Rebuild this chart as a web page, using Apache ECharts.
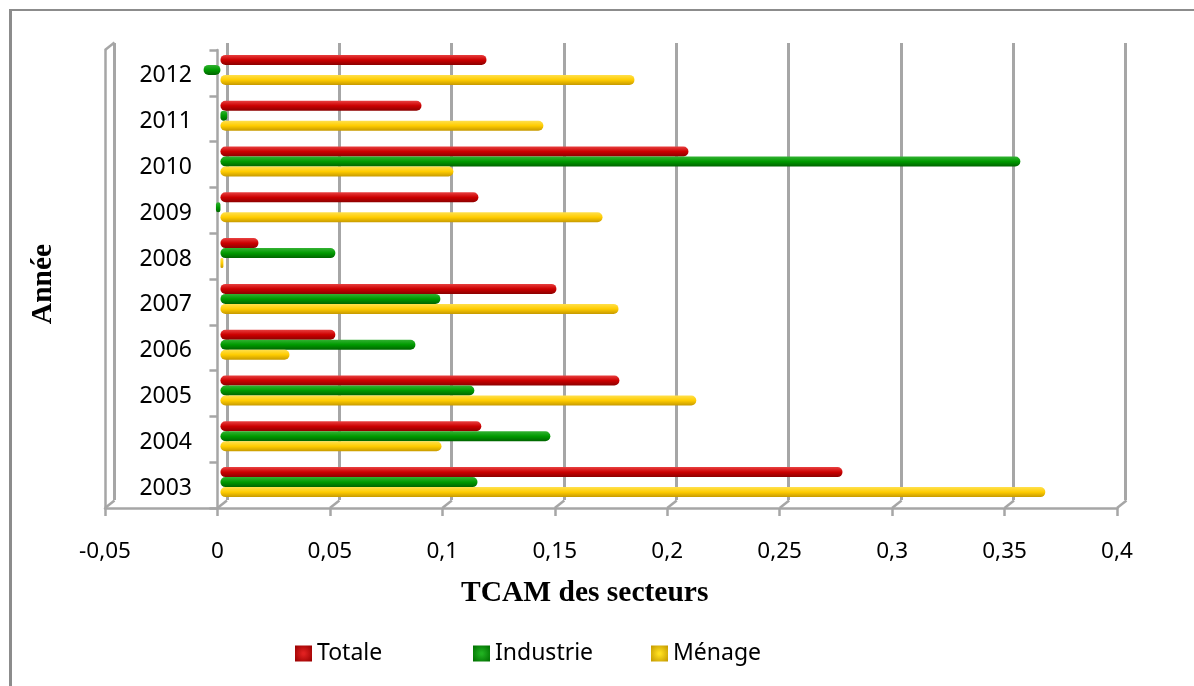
<!DOCTYPE html>
<html>
<head>
<meta charset="utf-8">
<style>
html, body { margin: 0; background: #fff; }
#chart { width: 1194px; height: 686px; }
</style>
<script src="https://cdn.jsdelivr.net/npm/echarts@6/dist/echarts.min.js"></script>
</head>
<body>
<div id="chart"></div>
<script>
var annees = ['2003', '2004', '2005', '2006', '2007', '2008', '2009', '2010', '2011', '2012'];
var totale = [0.2766, 0.116, 0.1774, 0.0511, 0.1494, 0.0169, 0.1147, 0.2081, 0.0894, 0.1183];
var industrie = [0.1143, 0.1467, 0.1129, 0.0867, 0.0978, 0.0511, -0.002, 0.3557, 0.003, -0.0075];
var menage = [0.3668, 0.0983, 0.2116, 0.0307, 0.177, 0.0013, 0.1699, 0.1036, 0.1436, 0.1841];
var graduations = [-0.05, 0, 0.05, 0.1, 0.15, 0.2, 0.25, 0.3, 0.35, 0.4];

var gris = '#a6a6a6';
var police = '"Noto Sans", sans-serif';

function degrade(clair, milieu, sombre) {
    return new echarts.graphic.LinearGradient(0, 0, 0, 1, [
        { offset: 0, color: clair },
        { offset: 0.5, color: milieu },
        { offset: 1, color: sombre }
    ]);
}

function serie(nom, valeurs, couleur) {
    return {
        name: nom,
        type: 'bar',
        xAxisIndex: 2,
        yAxisIndex: 2,
        data: valeurs,
        barWidth: 10,
        barGap: '0%',
        z: 5,
        itemStyle: { color: couleur, borderRadius: 5 }
    };
}

function legende(nom, gauche, centre, bord) {
    return {
        data: [{
            name: nom,
            icon: 'rect',
            itemStyle: {
                borderRadius: 0,
                color: new echarts.graphic.RadialGradient(0.5, 0.5, 0.7, [
                    { offset: 0.1, color: centre },
                    { offset: 1, color: bord }
                ])
            }
        }],
        left: gauche,
        top: 642,
        itemWidth: 17,
        itemHeight: 16,
        padding: 0,
        textStyle: { fontFamily: police, fontSize: 23, color: '#000' }
    };
}

function axeCache(index) {
    return { type: 'value', gridIndex: index, min: -0.05, max: 0.4, interval: 0.05, show: false };
}

// petits traits obliques du plancher 3D, et le coin haut de la paroi
function traitsPlancher(params, api) {
    var coord = params.coordSys;
    var y = api.value(1) ? coord.y : coord.y + coord.height;
    var p = api.coord([api.value(0), 0]);
    return {
        type: 'line',
        shape: { x1: p[0], y1: y, x2: p[0] + 9.5, y2: y - 7.5 },
        style: { stroke: gris, lineWidth: 2.5 }
    };
}

var traits = graduations.map(function (v) { return [v, 0]; });
traits.push([graduations[0], 1]);

var chart = echarts.init(document.getElementById('chart'));
chart.setOption({
    animation: false,
    grid: [
        { left: 105, top: 50, width: 1012, height: 458 },
        { left: 114.5, top: 43, width: 1011, height: 457 },
        { left: 108, top: 47, width: 1012, height: 458 }
    ],
    legend: [
        legende('Totale', 295, '#e02020', '#980000'),
        legende('Industrie', 473, '#20b020', '#006f00'),
        legende('Ménage', 651, '#ffdf20', '#c49a00')
    ],
    xAxis: [
        {
            type: 'value', gridIndex: 0, min: -0.05, max: 0.4, interval: 0.05,
            axisLine: { show: true, lineStyle: { color: gris, width: 2.5 } },
            axisTick: { show: true, length: 8, lineStyle: { color: gris, width: 2.5 } },
            splitLine: { show: false },
            axisLabel: {
                margin: 32, fontFamily: police, fontSize: 22.5, color: '#000',
                formatter: function (v) { return String(v).replace('.', ','); }
            }
        },
        {
            type: 'value', gridIndex: 1, min: -0.05, max: 0.4, interval: 0.05,
            axisLine: { show: false }, axisTick: { show: false }, axisLabel: { show: false },
            splitLine: { show: true, lineStyle: { color: gris, width: 3 } }
        },
        axeCache(2)
    ],
    yAxis: [
        {
            type: 'category', gridIndex: 0, data: annees,
            axisLine: { show: true, onZero: true, lineStyle: { color: gris, width: 2.5 } },
            axisTick: { show: true, length: 8, lineStyle: { color: gris, width: 2.5 } },
            splitLine: { show: false },
            axisLabel: {
                margin: -87, fontFamily: police, fontSize: 23, color: '#000',
                formatter: '{a|{value}}',
                rich: { a: { fontFamily: police, fontSize: 23, color: '#000', padding: [6, 0, 0, 0] } }
            }
        },
        {
            type: 'category', gridIndex: 1, data: annees, show: false
        },
        {
            type: 'category', gridIndex: 2, data: annees, show: false
        },
        {
            // paroi gauche, cote avant
            type: 'category', gridIndex: 0, data: annees, position: 'left',
            axisLine: { show: true, onZero: false, lineStyle: { color: gris, width: 2.5 } },
            axisTick: { show: false }, axisLabel: { show: false }, splitLine: { show: false }
        }
    ],
    graphic: [
        {
            type: 'text', left: 461, top: 578,
            style: { text: 'TCAM des secteurs', fontFamily: '"Liberation Serif", serif', fontWeight: 'bold', fontSize: 29.5, fill: '#000' }
        },
        {
            type: 'text', x: 43, y: 284, rotation: Math.PI / 2,
            style: { text: 'Année', align: 'center', verticalAlign: 'middle', fontFamily: '"Liberation Serif", serif', fontWeight: 'bold', fontSize: 29.5, fill: '#000' }
        },
        { type: 'line', shape: { x1: 9, y1: 10, x2: 1194, y2: 10 }, style: { stroke: '#8c8c8c', lineWidth: 2 } },
        { type: 'line', shape: { x1: 10.5, y1: 9, x2: 10.5, y2: 686 }, style: { stroke: '#8c8c8c', lineWidth: 3 } }
    ],
    series: [
        {
            type: 'custom', xAxisIndex: 0, yAxisIndex: 0, silent: true, z: 1,
            renderItem: traitsPlancher,
            data: traits,
            encode: { x: 0 }
        },
        serie('Totale', totale, degrade('#e84040', '#cc0000', '#8c0000')),
        serie('Industrie', industrie, degrade('#33b233', '#009a00', '#006400')),
        serie('Ménage', menage, degrade('#ffe04d', '#ffcc00', '#c79a00'))
    ]
});
</script>
</body>
</html>
